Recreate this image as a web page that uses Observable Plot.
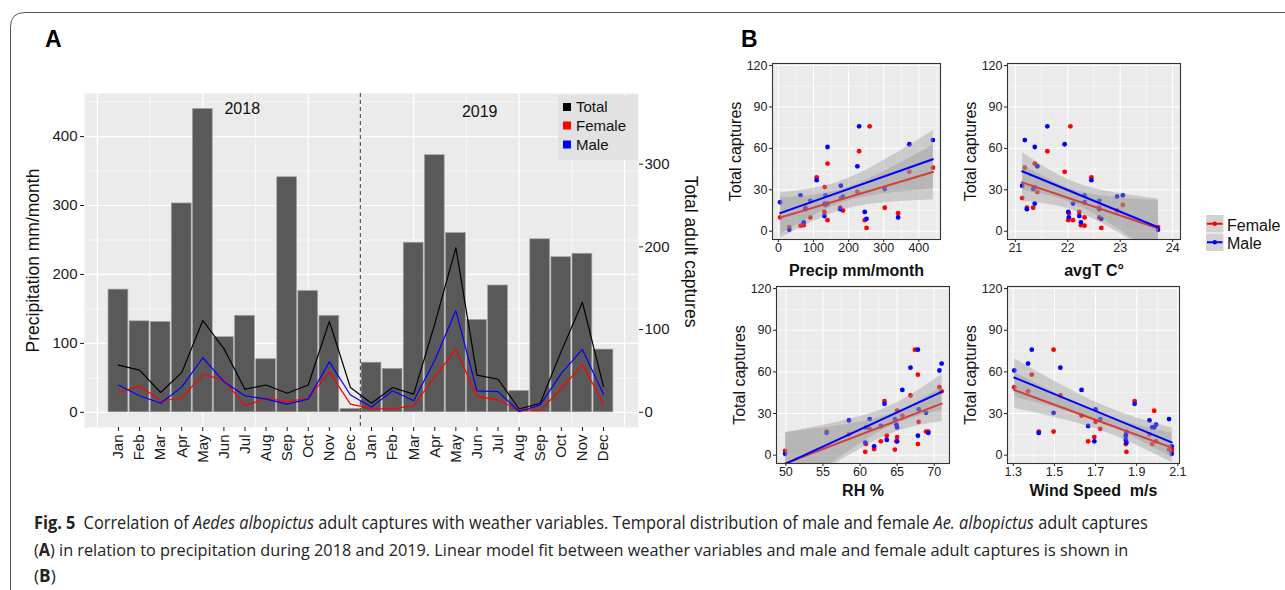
<!DOCTYPE html>
<html><head><meta charset="utf-8">
<script src="https://cdn.jsdelivr.net/npm/d3@7"></script>
<script src="https://cdn.jsdelivr.net/npm/@observablehq/plot@0.6"></script>
<style>
body{margin:0;background:#fff;}
#fig{position:relative;width:1285px;height:590px;overflow:hidden;background:#fff;font-family:"Liberation Sans",Arial,sans-serif;}
#fig svg{position:absolute;}
</style></head><body><div id="fig"></div>
<script>
// ---------- data ----------
const monthNames = ["Jan","Feb","Mar","Apr","May","Jun","Jul","Aug","Sep","Oct","Nov","Dec"];
const years = ["2018","2019"];
const precip = [178,132,131,303,440,109,140,77,341,176,140,5, 72,63,246,373,260,134,184,31,251,225,230,91];
const totalCaptures = [57,51,24,48,111,77,28,33,23,33,110,30, 11,30,22,107,199,45,40,4,11,74,133,31];
const femaleCaptures = [24,32,14,17,46,39,8,17,13,17,49,10, 4.4,4,8,43,76,19,15,3,2.4,28.5,58,10];
const maleCaptures = [33,20,11,30.5,66,37,20,16,10,16,61,21, 6.4,26,14,63,123,26,25,1,9,47,76,22];
const avgT = [21.13,21.37,22.22,21.34,21.18,22.45,22.10,21.22,22.02,22.60,21.37,22.32, 22.25,22.32,22.01,21.94,22.05,23.05,22.94,23.72,22.64,21.42,21.61,22.60];
const relHumidity = [67.9,65.0,63.6,68.9,71.0,63.3,60.8,55.5,65.0,69.2,70.7,62.8, 61.9,64.7,67.8,66.8,67.4,61.3,58.5,49.9,60.7,65.7,67.8,64.9];
const windSpeed = [1.70,1.985,1.847,1.496,1.372,1.89,1.975,1.424,1.694,1.85,1.305,1.664, 2.07,2.057,1.847,1.529,1.496,1.723,1.962,2.07,1.85,1.632,1.39,1.994];
const precipTicks = [0,100,200,300,400];
const captureTicks = [0,100,200,300];
const scatterYTicks = [0,30,60,90,120];
const yearLabels = [{label:"2018", m:6.87, v:440}, {label:"2019", m:18.13, v:436}];
const seriesNames = ["Total","Female","Male"];
const SEC = 1.2; // secondary axis: captures * 1.2 = precipitation units

const FONT = "Liberation Sans, Arial, sans-serif";
const fig = document.getElementById("fig");

// ---------- Panel A ----------
const monthIndex = precip.map((_, i) => i + 1);
const rowsA = monthIndex.map((m, i) => ({m, p: precip[i], tot: totalCaptures[i], f: femaleCaptures[i], ma: maleCaptures[i]}));
const white = {stroke: "#fff", strokeOpacity: 1};
const centered = {textAnchor: "middle", lineAnchor: "middle"};

const plotA = Plot.plot({
  width: 720, height: 480,
  marginLeft: 84, marginRight: 82, marginTop: 93, marginBottom: 53,
  style: {background: "transparent", fontFamily: FONT, fontSize: "15px", color: "#1a1a1a", overflow: "visible"},
  x: {domain: [-0.61, 25.66]},
  y: {domain: [-22, 462.5]},
  marks: [
    Plot.frame({fill: "#ebebeb", stroke: null}),
    Plot.gridY([50,150,250,350,450], {...white, strokeWidth: 0.6}),
    Plot.gridX([2.5,7.5,12.5,17.5,22.5], {...white, strokeWidth: 0.6}),
    Plot.gridY(precipTicks, {...white, strokeWidth: 1.2}),
    Plot.gridX([0,5,10,15,20,25], {...white, strokeWidth: 1.2}),
    Plot.rectY(rowsA, {x1: d => d.m - 0.47, x2: d => d.m + 0.47, y: "p", fill: "#595959", stroke: "#a3a3a3", strokeWidth: 0.7}),
    Plot.ruleX([12.47], {stroke: "#222", strokeWidth: 0.9, strokeDasharray: "4,3"}),
    Plot.lineY(rowsA, {x: "m", y: d => d.tot * SEC, stroke: "#000", strokeWidth: 1.2}),
    Plot.lineY(rowsA, {x: "m", y: d => d.f * SEC, stroke: "#ff0000", strokeWidth: 1.2}),
    Plot.lineY(rowsA, {x: "m", y: d => d.ma * SEC, stroke: "#0000ff", strokeWidth: 1.2}),
    Plot.text(yearLabels, {x: "m", y: "v", text: "label", fontSize: 16, fill: "#111"}),
    Plot.axisX({ticks: monthIndex, tickFormat: i => monthNames[(i - 1) % 12], tickRotate: -90, tickSize: 4, tickPadding: 3, fontSize: 15, label: null}),
    Plot.axisY({anchor: "left", ticks: precipTicks, tickSize: 4, tickPadding: 3, fontSize: 15, label: null}),
    Plot.axisY({anchor: "right", ticks: captureTicks.map(c => c * SEC), tickFormat: v => String(Math.round(v / SEC)), tickSize: 4, tickPadding: 2, fontSize: 15, label: null}),
    Plot.text(["Precipitation mm/month"], {frameAnchor: "left", dx: -51, rotate: -90, fontSize: 17.5, text: d => d, fill: "#111", ...centered}),
    Plot.text(["Total adult captures"], {frameAnchor: "right", dx: 52, dy: -9, rotate: 90, fontSize: 17.5, text: d => d, fill: "#111", ...centered})
  ]
});
plotA.style.left = "0px"; plotA.style.top = "0px";
fig.appendChild(plotA);

// ---------- Panel B ----------
const rowsB = monthIndex.map((m, i) => ({p: precip[i], t: avgT[i], rh: relHumidity[i], w: windSpeed[i], f: femaleCaptures[i], ma: maleCaptures[i]}));
const femaleRows = rowsB.filter(d => d.f <= 120);
const maleRows = rowsB.filter(d => d.ma <= 120); // values beyond the 0-120 limits are dropped

function scatterPanel(o) {
  const p = Plot.plot({
    width: o.width, height: o.height,
    marginLeft: o.ml, marginRight: o.mr, marginTop: o.mt, marginBottom: o.mb,
    style: {background: "transparent", fontFamily: FONT, fontSize: "12.5px", color: "#222", overflow: "visible"},
    x: {domain: o.xDomain},
    y: {domain: [-6, 121.5]},
    marks: [
      Plot.frame({fill: "#ebebeb", stroke: null}),
      Plot.gridX(o.xMinor, {...white, strokeWidth: 0.5}),
      Plot.gridY([15,45,75,105], {...white, strokeWidth: 0.5}),
      Plot.gridX(o.xTicks, {...white, strokeWidth: 1}),
      Plot.gridY(scatterYTicks, {...white, strokeWidth: 1}),
      Plot.dot(femaleRows, {x: o.key, y: "f", r: 2.4, fill: "#ff0000", stroke: null}),
      Plot.dot(maleRows, {x: o.key, y: "ma", r: 2.4, fill: "#0000ff", stroke: null}),
      Plot.linearRegressionY(femaleRows, {x: o.key, y: "f", stroke: "#ff0000", strokeWidth: 2, fill: "#999999", fillOpacity: 0.4, clip: true}),
      Plot.linearRegressionY(maleRows, {x: o.key, y: "ma", stroke: "#0000ff", strokeWidth: 2, fill: "#999999", fillOpacity: 0.4, clip: true}),
      Plot.frame({stroke: "#333", strokeWidth: 1.1}),
      Plot.axisX({ticks: o.xTicks, tickFormat: d => String(d), tickSize: 3, tickPadding: 1, fontSize: 12.5, label: null}),
      Plot.axisY({ticks: scatterYTicks, tickSize: 3, tickPadding: 2, fontSize: 12.5, label: null}),
      Plot.text([o.title], {frameAnchor: "bottom", dy: o.titleDy, fontWeight: "bold", fontSize: 16, text: d => d, fill: "#111", ...centered}),
      Plot.text(["Total captures"], {frameAnchor: "left", dx: -37, rotate: -90, fontSize: 16, text: d => d, fill: "#111", ...centered})
    ]
  });
  p.style.left = o.left + "px"; p.style.top = o.top + "px";
  fig.appendChild(p);
}

scatterPanel({key: "p", xDomain: [-16.75, 461.75], xTicks: [0,100,200,300,400], xMinor: [50,150,250,350,450], title: "Precip mm/month",
  left: 700, top: 40, width: 260, height: 250, ml: 72, mr: 20, mt: 23, mb: 51, titleDy: 31});
scatterPanel({key: "t", xDomain: [20.85, 24.15], xTicks: [21,22,23,24], xMinor: [21.5,22.5,23.5], title: "avgT C°",
  left: 930, top: 40, width: 270, height: 250, ml: 77, mr: 20, mt: 23, mb: 51, titleDy: 31});
scatterPanel({key: "rh", xDomain: [48.74, 72.06], xTicks: [50,55,60,65,70], xMinor: [52.5,57.5,62.5,67.5], title: "RH %",
  left: 700, top: 265, width: 260, height: 240, ml: 76, mr: 11, mt: 21, mb: 42, titleDy: 27});
scatterPanel({key: "w", xDomain: [1.272, 2.108], xTicks: [1.3,1.5,1.7,1.9,2.1], xMinor: [1.4,1.6,1.8,2.0], title: "Wind Speed  m/s",
  left: 930, top: 265, width: 260, height: 240, ml: 77, mr: 11, mt: 21, mb: 42, titleDy: 27});

// ---------- overlay: border, panel letters, legends, caption ----------
const NS = "http://www.w3.org/2000/svg";
const ov = document.createElementNS(NS, "svg");
ov.setAttribute("width", 1285); ov.setAttribute("height", 590);
ov.style.left = "0px"; ov.style.top = "0px";
fig.appendChild(ov);
function el(tag, attrs, parent) {
  const e = document.createElementNS(NS, tag);
  for (const k in attrs) e.setAttribute(k, attrs[k]);
  (parent || ov).appendChild(e);
  return e;
}
function txt(s, attrs, parent) { const e = el("text", attrs, parent); e.textContent = s; return e; }

el("path", {d: "M10.5 600 L10.5 27 Q10.5 12.5 25 12.5 L1295 12.5", fill: "none", stroke: "#555", "stroke-width": 1});
txt("A", {x: 45, y: 47, "font-family": FONT, "font-weight": "bold", "font-size": 23, fill: "#000"});
txt("B", {x: 741, y: 47, "font-family": FONT, "font-weight": "bold", "font-size": 23, fill: "#000"});

// legend A
const legColors = ["#000000", "#ff0000", "#0000ff"];
el("rect", {x: 558, y: 95, width: 80, height: 65, fill: "#e2e2e2"});
seriesNames.forEach((s, i) => {
  const cy = [107, 125.5, 144.5][i];
  el("rect", {x: 563, y: cy - 4, width: 8, height: 8, fill: legColors[i]});
  txt(s, {x: 576, y: cy + 5.2, "font-family": FONT, "font-size": 15, fill: "#111"});
});

// legend B
[["Female", "#ff0000"], ["Male", "#0000ff"]].forEach(([s, c], i) => {
  const y0 = 215 + i * 18.5;
  el("rect", {x: 1206, y: y0, width: 17.5, height: 17.5, fill: "#d2d2d2"});
  el("line", {x1: 1207, x2: 1222.5, y1: y0 + 8.75, y2: y0 + 8.75, stroke: c, "stroke-width": 2});
  el("circle", {cx: 1214.75, cy: y0 + 8.75, r: 2.2, fill: c});
  txt(s, {x: 1227, y: y0 + 15.5, "font-family": FONT, "font-size": 16, fill: "#111"});
});

// caption (each line horizontally condensed to the reference width)
const CAP = "Open Sans, Liberation Sans, sans-serif";
function capLine(parts, y, len) {
  const g = el("g", {});
  const t = el("text", {x: 0, y: 0, "font-family": CAP, "font-size": 17.2, fill: "#222"}, g);
  parts.forEach(([s, style]) => {
    const sp = el("tspan", {}, t);
    if (style === "b") sp.setAttribute("font-weight", "bold");
    if (style === "i") sp.setAttribute("font-style", "italic");
    sp.textContent = s;
  });
  let k = 1;
  if (len) { const w = t.getComputedTextLength(); if (w > 0) k = Math.min(1, len / w); }
  g.setAttribute("transform", `translate(34,${y}) scale(${k},1)`);
}
capLine([["Fig. 5", "b"], ["\u2002Correlation of "], ["Aedes albopictus", "i"], [" adult captures with weather variables. Temporal distribution of male and female "], ["Ae. albopictus", "i"], [" adult captures"]], 529, 1114);
capLine([["("], ["A", "b"], [") in relation to precipitation during 2018 and 2019. Linear model fit between weather variables and male and female adult captures is shown in"]], 555.5, 1094);
capLine([["("], ["B", "b"], [")"]], 582, 0);
</script>
</body></html>
